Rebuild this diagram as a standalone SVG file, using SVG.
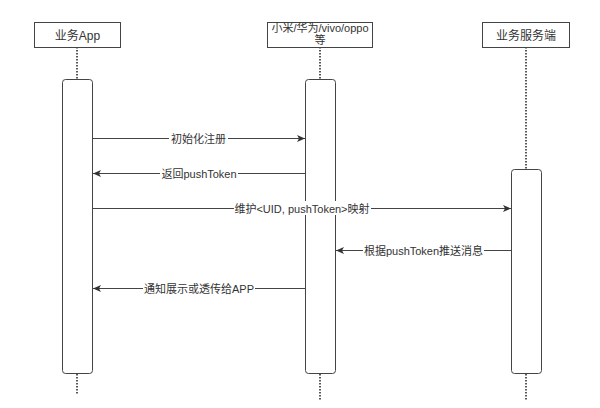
<svg xmlns="http://www.w3.org/2000/svg" width="600" height="408" viewBox="0 0 600 408">
<style>
.box{fill:#fff;stroke:#444;stroke-width:1}
.bar{fill:#fff;stroke:#444;stroke-width:1}
.life{stroke:#222;stroke-width:1.5;stroke-dasharray:1.5 1.5;fill:none}
.msg{stroke:#444;stroke-width:1;fill:none}
.t{font-family:"Liberation Sans","Noto Sans CJK SC",sans-serif;fill:#333;text-anchor:middle}
.h{font-size:12px}
.s{font-size:11px}
.lbg{fill:#fff}
</style>
<defs>
<marker id="arr" markerUnits="userSpaceOnUse" markerWidth="9" markerHeight="8" refX="8" refY="3.5" orient="auto">
<path d="M0,0 L8,3.5 L0,7 L2,3.5 z" fill="#333"/>
</marker>
</defs>
<rect width="600" height="408" fill="#fff"/>
<g id="lifelines">
<line class="life" x1="77" y1="47" x2="77" y2="79"/>
<line class="life" x1="77" y1="374" x2="77" y2="395"/>
<line class="life" x1="320" y1="47" x2="320" y2="79"/>
<line class="life" x1="320" y1="374" x2="320" y2="400"/>
<line class="life" x1="526" y1="47" x2="526" y2="169"/>
<line class="life" x1="526" y1="374" x2="526" y2="400"/>
</g>
<g id="node-app">
<rect class="box" x="34.5" y="22.5" width="86" height="25"/>
<text class="t h" x="77.5" y="39.5">业务App</text>
<rect class="bar" x="62.5" y="79.5" width="30" height="294" rx="3"/>
</g>
<g id="node-vendor">
<rect class="box" x="267.5" y="22.5" width="105" height="25"/>
<text class="t s" x="320" y="31.5">小米/华为/vivo/oppo</text>
<text class="t s" x="320" y="44">等</text>
<rect class="bar" x="305.5" y="79.5" width="30" height="294" rx="3"/>
</g>
<g id="node-server">
<rect class="box" x="482.5" y="22.5" width="87" height="25"/>
<text class="t h" x="526" y="39.5">业务服务端</text>
<rect class="bar" x="511.5" y="169.5" width="30" height="204" rx="3"/>
</g>
<g id="connectors">
<line class="msg" x1="93" y1="138.5" x2="305" y2="138.5" marker-end="url(#arr)"/>
<rect class="lbg" x="169" y="131" width="59" height="14"/>
<text class="t s" x="198.5" y="142.5">初始化注册</text>

<line class="msg" x1="305" y1="173.5" x2="93" y2="173.5" marker-end="url(#arr)"/>
<rect class="lbg" x="160" y="166" width="78" height="14"/>
<text class="t s" x="199" y="177.5">返回pushToken</text>

<line class="msg" x1="93" y1="208.5" x2="511" y2="208.5" marker-end="url(#arr)"/>
<rect class="lbg" x="234" y="201" width="137" height="14"/>
<text class="t s" x="302" y="212.5">维护&lt;UID, pushToken&gt;映射</text>

<line class="msg" x1="511" y1="250.5" x2="336" y2="250.5" marker-end="url(#arr)"/>
<rect class="lbg" x="363" y="243" width="121" height="14"/>
<text class="t s" x="423.5" y="254.5">根据pushToken推送消息</text>

<line class="msg" x1="305" y1="288.5" x2="93" y2="288.5" marker-end="url(#arr)"/>
<rect class="lbg" x="143" y="281" width="112" height="14"/>
<text class="t s" x="199" y="292.5">通知展示或透传给APP</text>
</g>
</svg>
